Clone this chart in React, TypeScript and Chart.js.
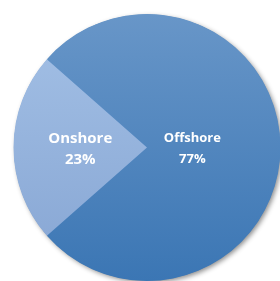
import React, { useEffect, useRef } from "react";
import { Chart, registerables } from "chart.js";

Chart.register(...registerables);

const categories = ["Offshore", "Onshore"];
const shares = [77, 23];
const pctLabels = ["77%", "23%"];

export default function App() {
  const ref = useRef<HTMLCanvasElement | null>(null);
  useEffect(() => {
    const canvas = ref.current!;
    const grad = (ctx: CanvasRenderingContext2D, area: any, top: string, bottom: string) => {
      const g = ctx.createLinearGradient(0, area.top, 0, area.bottom);
      g.addColorStop(0, top);
      g.addColorStop(1, bottom);
      return g;
    };
    const shadowPlugin = {
      id: "shadow",
      beforeDatasetsDraw(chart: any) {
        const arc = chart.getDatasetMeta(0).data[0];
        if (!arc) return;
        const ctx = chart.ctx;
        ctx.save();
        ctx.shadowColor = "rgba(0,0,0,0.45)";
        ctx.shadowBlur = 5;
        ctx.shadowOffsetX = 2;
        ctx.shadowOffsetY = 2;
        ctx.fillStyle = "#4a82bf";
        ctx.beginPath();
        ctx.arc(arc.x, arc.y, arc.outerRadius - 0.5, 0, Math.PI * 2);
        ctx.fill();
        ctx.restore();
      },
    };
    const labelPlugin = {
      id: "labels",
      afterDatasetsDraw(chart: any) {
        const ctx = chart.ctx;
        const meta = chart.getDatasetMeta(0);
        const ks = [0.34, 0.5];
        const sizes = [13, 15];
        meta.data.forEach((arc: any, i: number) => {
          const mid = (arc.startAngle + arc.endAngle) / 2;
          const r = arc.outerRadius * ks[i];
          const x = arc.x + Math.cos(mid) * r;
          const y = arc.y + Math.sin(mid) * r;
          ctx.save();
          ctx.fillStyle = "#ffffff";
          ctx.textAlign = "center";
          ctx.textBaseline = "middle";
          ctx.font = `bold ${sizes[i]}px "Open Sans", sans-serif`;
          ctx.fillText(categories[i], x, y - 9);
          ctx.fillText(pctLabels[i], x, y + 12);
          ctx.restore();
        });
      },
    };
    const chart = new Chart(canvas, {
      type: "pie",
      data: {
        labels: categories,
        datasets: [
          {
            data: shares,
            borderWidth: 0,
            backgroundColor: (c: any) => {
              const area = c.chart.chartArea;
              if (!area) return c.dataIndex === 0 ? "#4a82bf" : "#95b4dd";
              return c.dataIndex === 0
                ? grad(c.chart.ctx, area, "#6896c8", "#3b76b4")
                : grad(c.chart.ctx, area, "#a4c1e6", "#86a5d3");
            },
          },
        ],
      },
      options: {
        animation: false,
        responsive: false,
        rotation: -48.6,
        layout: { padding: { left: 13, top: 14, right: 19, bottom: 19 } },
        plugins: { legend: { display: false }, tooltip: { enabled: false } },
      },
      plugins: [shadowPlugin, labelPlugin],
    });
    return () => chart.destroy();
  }, []);
  return (
    <div style={{ position: "fixed", left: 0, top: 0, width: 280, height: 281, overflow: "hidden", background: "#fff" }}>
      <canvas ref={ref} width={300} height={300} style={{ width: 300, height: 300, display: "block" }} />
    </div>
  );
}
